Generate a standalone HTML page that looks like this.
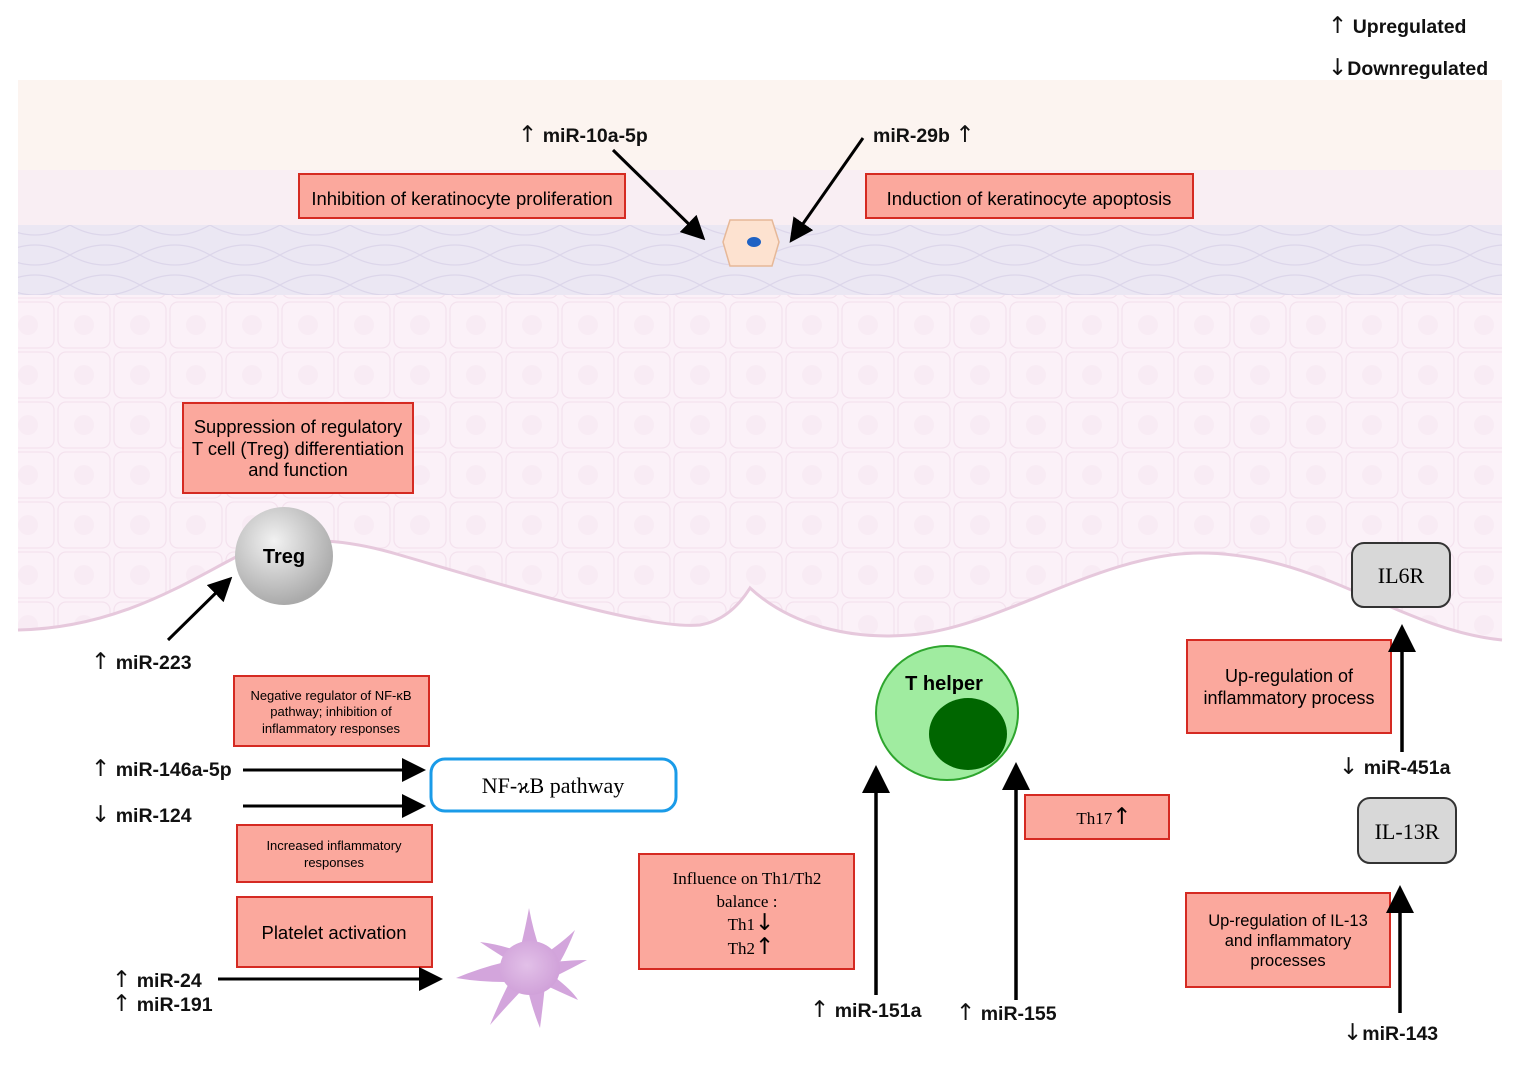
<!DOCTYPE html>
<html><head><meta charset="utf-8"><style>
html,body{margin:0;padding:0;background:#fff;}
svg text{font-family:"Liberation Sans",sans-serif;}
.b{font-weight:bold;font-size:19.5px;fill:#111;}
.a{font-size:23px;font-weight:normal;font-family:"DejaVu Sans",sans-serif;}
.s{font-family:"Liberation Serif",serif !important;}
.box{fill:#fba89d;stroke:#d52a22;stroke-width:2;}
</style></head><body>
<svg width="1525" height="1066" viewBox="0 0 1525 1066" xmlns="http://www.w3.org/2000/svg">
<defs>
<marker id="ah" markerWidth="8" markerHeight="8" refX="6" refY="4" orient="auto" markerUnits="strokeWidth"><path d="M0,0 L8,4 L0,8 Z" fill="#000"/></marker>
<radialGradient id="tg" cx="40%" cy="35%" r="65%"><stop offset="0" stop-color="#f2f2f2"/><stop offset="1" stop-color="#aaa"/></radialGradient>
<radialGradient id="pg" cx="45%" cy="45%" r="60%"><stop offset="0" stop-color="#e2c0e8"/><stop offset="1" stop-color="#cf9fd8"/></radialGradient>
<pattern id="cells" width="56" height="50" patternUnits="userSpaceOnUse"><rect x="2" y="2" width="52" height="46" rx="8" fill="none" stroke="#f1dcea" stroke-width="1.3"/><circle cx="28" cy="25" r="10" fill="#f7e9f2"/></pattern>
<pattern id="lav" width="70" height="30" patternUnits="userSpaceOnUse"><path d="M0,15 Q35,-5 70,15 Q35,35 0,15Z" fill="none" stroke="#dcd6ea" stroke-width="1.2"/></pattern>
<clipPath id="skin"><path d="M18,80 L1502,80 L1502,640 C1400,630 1320,553 1200,553 C1100,553 1000,628 910,635 C850,640 790,625 750,588 Q730,620 700,625 C650,630 520,590 400,555 C350,540 290,532 240,555 C190,580 120,628 18,630 Z"/></clipPath>
</defs>
<g clip-path="url(#skin)">
<rect x="0" y="60" width="1525" height="600" fill="#fbf1f8"/>
<rect x="0" y="295" width="1525" height="360" fill="url(#cells)" opacity="0.7"/>
<rect x="0" y="80" width="1525" height="95" fill="#fcf4f0"/>
<rect x="0" y="170" width="1525" height="60" fill="#f9eef3"/>
<rect x="0" y="225" width="1525" height="70" fill="#ebe7f3"/>
<rect x="0" y="225" width="1525" height="70" fill="url(#lav)"/>
</g>
<path d="M18,630 C120,628 190,580 240,555 C290,532 350,540 400,555 C520,590 650,630 700,625 Q730,620 750,588 C790,625 850,640 910,635 C1000,628 1100,553 1200,553 C1320,553 1400,630 1502,640" fill="none" stroke="#e6c8dc" stroke-width="3"/>

<!-- legend -->
<text x="1328" y="33" class="b"><tspan class="a">↑</tspan> Upregulated</text>
<text x="1328" y="75" class="b"><tspan class="a">↓</tspan>Downregulated</text>

<!-- top -->
<text x="518" y="142" class="b"><tspan class="a">↑</tspan> miR-10a-5p</text>
<text x="873" y="142" class="b">miR-29b <tspan class="a">↑</tspan></text>
<rect x="299" y="174" width="326" height="44" class="box"/>
<text x="462" y="205" text-anchor="middle" font-size="18.5">Inhibition of keratinocyte proliferation</text>
<rect x="866" y="174" width="327" height="44" class="box"/>
<text x="1029" y="205" text-anchor="middle" font-size="18.5">Induction of keratinocyte apoptosis</text>
<line x1="613" y1="150" x2="701" y2="236" stroke="#000" stroke-width="3" marker-end="url(#ah)"/>
<line x1="863" y1="138" x2="793" y2="238" stroke="#000" stroke-width="3" marker-end="url(#ah)"/>
<path d="M730,220 L772,220 L779,242 L772,266 L730,266 L723,242 Z" fill="#fde2d0" stroke="#e6b898" stroke-width="1.5"/>
<ellipse cx="754" cy="242" rx="7" ry="5" fill="#1f62c4"/>

<!-- Treg -->
<rect x="183" y="403" width="230" height="90" class="box"/>
<text x="298" y="433" text-anchor="middle" font-size="18.3">Suppression of regulatory</text>
<text x="298" y="455" text-anchor="middle" font-size="18.3">T cell (Treg) differentiation</text>
<text x="298" y="476" text-anchor="middle" font-size="18.3">and function</text>
<ellipse cx="284" cy="556" rx="49" ry="49" fill="url(#tg)"/>
<text x="284" y="563" text-anchor="middle" font-weight="bold" font-size="20">Treg</text>
<line x1="168" y1="640" x2="228" y2="581" stroke="#000" stroke-width="3" marker-end="url(#ah)"/>
<text x="91" y="669" class="b"><tspan class="a">↑</tspan> miR-223</text>

<!-- NF-kB -->
<rect x="234" y="676" width="195" height="70" class="box"/>
<text x="331" y="700" text-anchor="middle" font-size="13">Negative regulator of NF-κB</text>
<text x="331" y="716" text-anchor="middle" font-size="13">pathway; inhibition of</text>
<text x="331" y="733" text-anchor="middle" font-size="13">inflammatory responses</text>
<text x="91" y="776" class="b"><tspan class="a">↑</tspan> miR-146a-5p</text>
<line x1="243" y1="770" x2="420" y2="770" stroke="#000" stroke-width="3" marker-end="url(#ah)"/>
<text x="91" y="822" class="b"><tspan class="a">↓</tspan> miR-124</text>
<line x1="243" y1="806" x2="420" y2="806" stroke="#000" stroke-width="3" marker-end="url(#ah)"/>
<rect x="431" y="759" width="245" height="52" rx="14" fill="#fff" stroke="#1a9be8" stroke-width="3"/>
<text x="553" y="793" text-anchor="middle" font-size="22" class="s">NF-ϰB pathway</text>
<rect x="237" y="825" width="195" height="57" class="box"/>
<text x="334" y="850" text-anchor="middle" font-size="13">Increased inflammatory</text>
<text x="334" y="867" text-anchor="middle" font-size="13">responses</text>
<rect x="237" y="897" width="195" height="70" class="box"/>
<text x="334" y="939" text-anchor="middle" font-size="18.5">Platelet activation</text>
<text x="112" y="987" class="b"><tspan class="a">↑</tspan> miR-24</text>
<text x="112" y="1011" class="b"><tspan class="a">↑</tspan> miR-191</text>
<line x1="218" y1="979" x2="437" y2="979" stroke="#000" stroke-width="3" marker-end="url(#ah)"/>
<g fill="#d3a5dc">
<path d="M520,950 Q526,925 529,908 Q533,930 540,950Z"/>
<path d="M548,952 Q565,940 575,930 Q568,948 560,962Z"/>
<path d="M555,962 Q572,960 587,960 Q572,968 558,975Z"/>
<path d="M552,975 Q572,990 578,1000 Q560,992 545,985Z"/>
<path d="M545,985 Q543,1005 540,1028 Q532,1008 528,990Z"/>
<path d="M522,990 Q505,1008 490,1025 Q498,1005 508,985Z"/>
<path d="M505,982 Q480,982 456,978 Q480,968 505,962Z"/>
<path d="M508,960 Q492,950 480,942 Q497,944 515,950Z"/>
<ellipse cx="530" cy="968" rx="30" ry="27" fill="url(#pg)"/>
</g>

<!-- Th -->
<rect x="639" y="854" width="215" height="115" class="box"/>
<text x="747" y="884" text-anchor="middle" font-size="17" class="s">Influence on Th1/Th2</text>
<text x="747" y="907" text-anchor="middle" font-size="17" class="s">balance :</text>
<text x="751" y="930" text-anchor="middle" font-size="17" class="s">Th1<tspan class="a" font-size="20">↓</tspan></text>
<text x="751" y="954" text-anchor="middle" font-size="17" class="s">Th2<tspan class="a" font-size="20">↑</tspan></text>
<ellipse cx="947" cy="713" rx="71" ry="67" fill="#a0eca0" stroke="#2ea52e" stroke-width="2"/>
<ellipse cx="968" cy="734" rx="39" ry="36" fill="#006600"/>
<text x="944" y="690" text-anchor="middle" font-weight="bold" font-size="20">T helper</text>
<line x1="876" y1="995" x2="876" y2="772" stroke="#000" stroke-width="3.5" marker-end="url(#ah)"/>
<text x="810" y="1017" class="b"><tspan class="a">↑</tspan> miR-151a</text>
<line x1="1016" y1="1000" x2="1016" y2="769" stroke="#000" stroke-width="3.5" marker-end="url(#ah)"/>
<text x="956" y="1020" class="b"><tspan class="a">↑</tspan> miR-155</text>
<rect x="1025" y="795" width="144" height="44" class="box"/>
<text x="1104" y="824" text-anchor="middle" font-size="17" class="s">Th17<tspan class="a" font-size="20">↑</tspan></text>

<!-- right -->
<rect x="1352" y="543" width="98" height="64" rx="12" fill="#d8d8d8" stroke="#333" stroke-width="2"/>
<text x="1401" y="583" text-anchor="middle" font-size="22" class="s">IL6R</text>
<rect x="1187" y="640" width="204" height="93" class="box"/>
<text x="1289" y="682" text-anchor="middle" font-size="18">Up-regulation of</text>
<text x="1289" y="704" text-anchor="middle" font-size="18">inflammatory process</text>
<line x1="1402" y1="752" x2="1402" y2="631" stroke="#000" stroke-width="3.5" marker-end="url(#ah)"/>
<text x="1339" y="774" class="b"><tspan class="a">↓</tspan> miR-451a</text>
<rect x="1358" y="798" width="98" height="65" rx="12" fill="#d8d8d8" stroke="#333" stroke-width="2"/>
<text x="1407" y="839" text-anchor="middle" font-size="22" class="s">IL-13R</text>
<rect x="1186" y="893" width="204" height="94" class="box"/>
<text x="1288" y="926" text-anchor="middle" font-size="16.5">Up-regulation of IL-13</text>
<text x="1288" y="946" text-anchor="middle" font-size="16.5">and inflammatory</text>
<text x="1288" y="966" text-anchor="middle" font-size="16.5">processes</text>
<line x1="1400" y1="1013" x2="1400" y2="892" stroke="#000" stroke-width="3.5" marker-end="url(#ah)"/>
<text x="1343" y="1040" class="b"><tspan class="a">↓</tspan>miR-143</text>
</svg>
</body></html>
